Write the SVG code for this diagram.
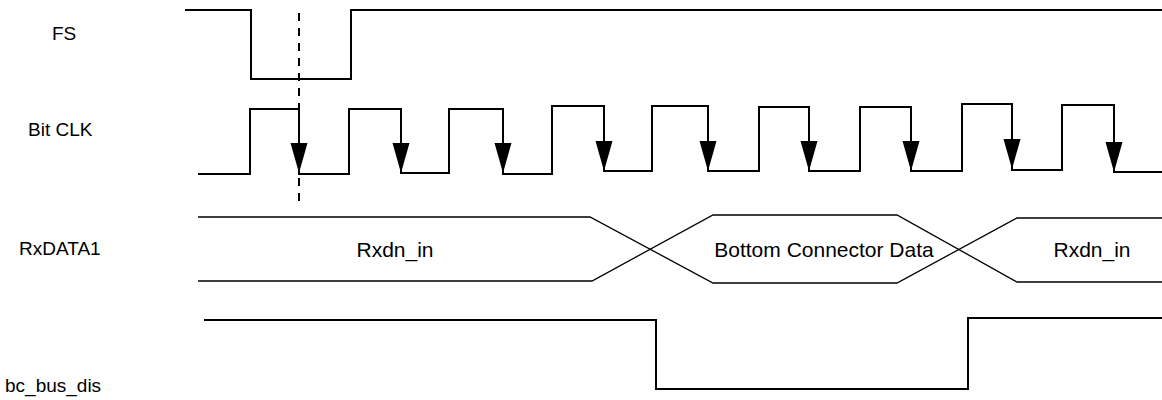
<svg xmlns="http://www.w3.org/2000/svg" xmlns:xlink="http://www.w3.org/1999/xlink" width="1162" height="400" viewBox="0 0 1162 400">
<style>
.lbl{font-family:"Liberation Sans",Arial,sans-serif;font-size:19px;fill:#000}
.btxt{font-family:"Liberation Sans",Arial,sans-serif;font-size:21px;fill:#000;text-anchor:middle}
.wave{fill:none;stroke:#000;stroke-width:2}
.bus{fill:none;stroke:#000;stroke-width:1.3}
.dash{fill:none;stroke:#000;stroke-width:2;stroke-dasharray:8 7}
</style>
<defs>
<polygon id="ah" points="-8.5,-30 8.5,-30 0,0" fill="#000"/>
</defs>
<rect width="1162" height="400" fill="#fff"/>
<g id="labels">
<text class="lbl" x="52" y="40">FS</text>
<text class="lbl" x="28" y="136">Bit CLK</text>
<text class="lbl" x="19" y="255">RxDATA1</text>
<text class="lbl" x="5" y="392">bc_bus_dis</text>
</g>
<g id="fs">
<polyline class="wave" points="185,10 251,10 251,79 351,79 351,10 1162,10"/>
</g>
<g id="bitclk">
<polyline class="wave" points="198,174 250,174 250,109 299,109 299,174 349,174 349,109 401,109 401,173 449,173 449,109 503,109 503,174 552,174 552,106 604,106 604,171 652,171 652,106 708,106 708,171 759,171 759,107 809,107 809,171 860,171 860,107 911,107 911,171 962,171 962,104 1012,104 1012,170 1062,170 1062,105 1114,105 1114,172 1162,172"/>
<use xlink:href="#ah" x="299" y="173"/>
<use xlink:href="#ah" x="401" y="173"/>
<use xlink:href="#ah" x="503" y="173"/>
<use xlink:href="#ah" x="604" y="171"/>
<use xlink:href="#ah" x="708" y="171"/>
<use xlink:href="#ah" x="809" y="171"/>
<use xlink:href="#ah" x="911" y="171"/>
<use xlink:href="#ah" x="1012" y="169"/>
<use xlink:href="#ah" x="1114" y="172"/>
</g>
<g id="rxdata1">
<polyline class="bus" points="198,217 590,217 713,283 897,283 1017,218 1162,218"/>
<polyline class="bus" points="198,281 592,281 713,215 897,215 1017,282 1162,282"/>
<text class="btxt" x="395" y="257">Rxdn_in</text>
<text class="btxt" x="824" y="257">Bottom Connector Data</text>
<text class="btxt" x="1092" y="257">Rxdn_in</text>
</g>
<g id="bc_bus_dis">
<polyline class="wave" points="204,320 656,320 656,389 968,389 968,318 1162,318"/>
</g>
<g id="connectors">
<line class="dash" x1="299" y1="13" x2="299" y2="202"/>
</g>
</svg>
